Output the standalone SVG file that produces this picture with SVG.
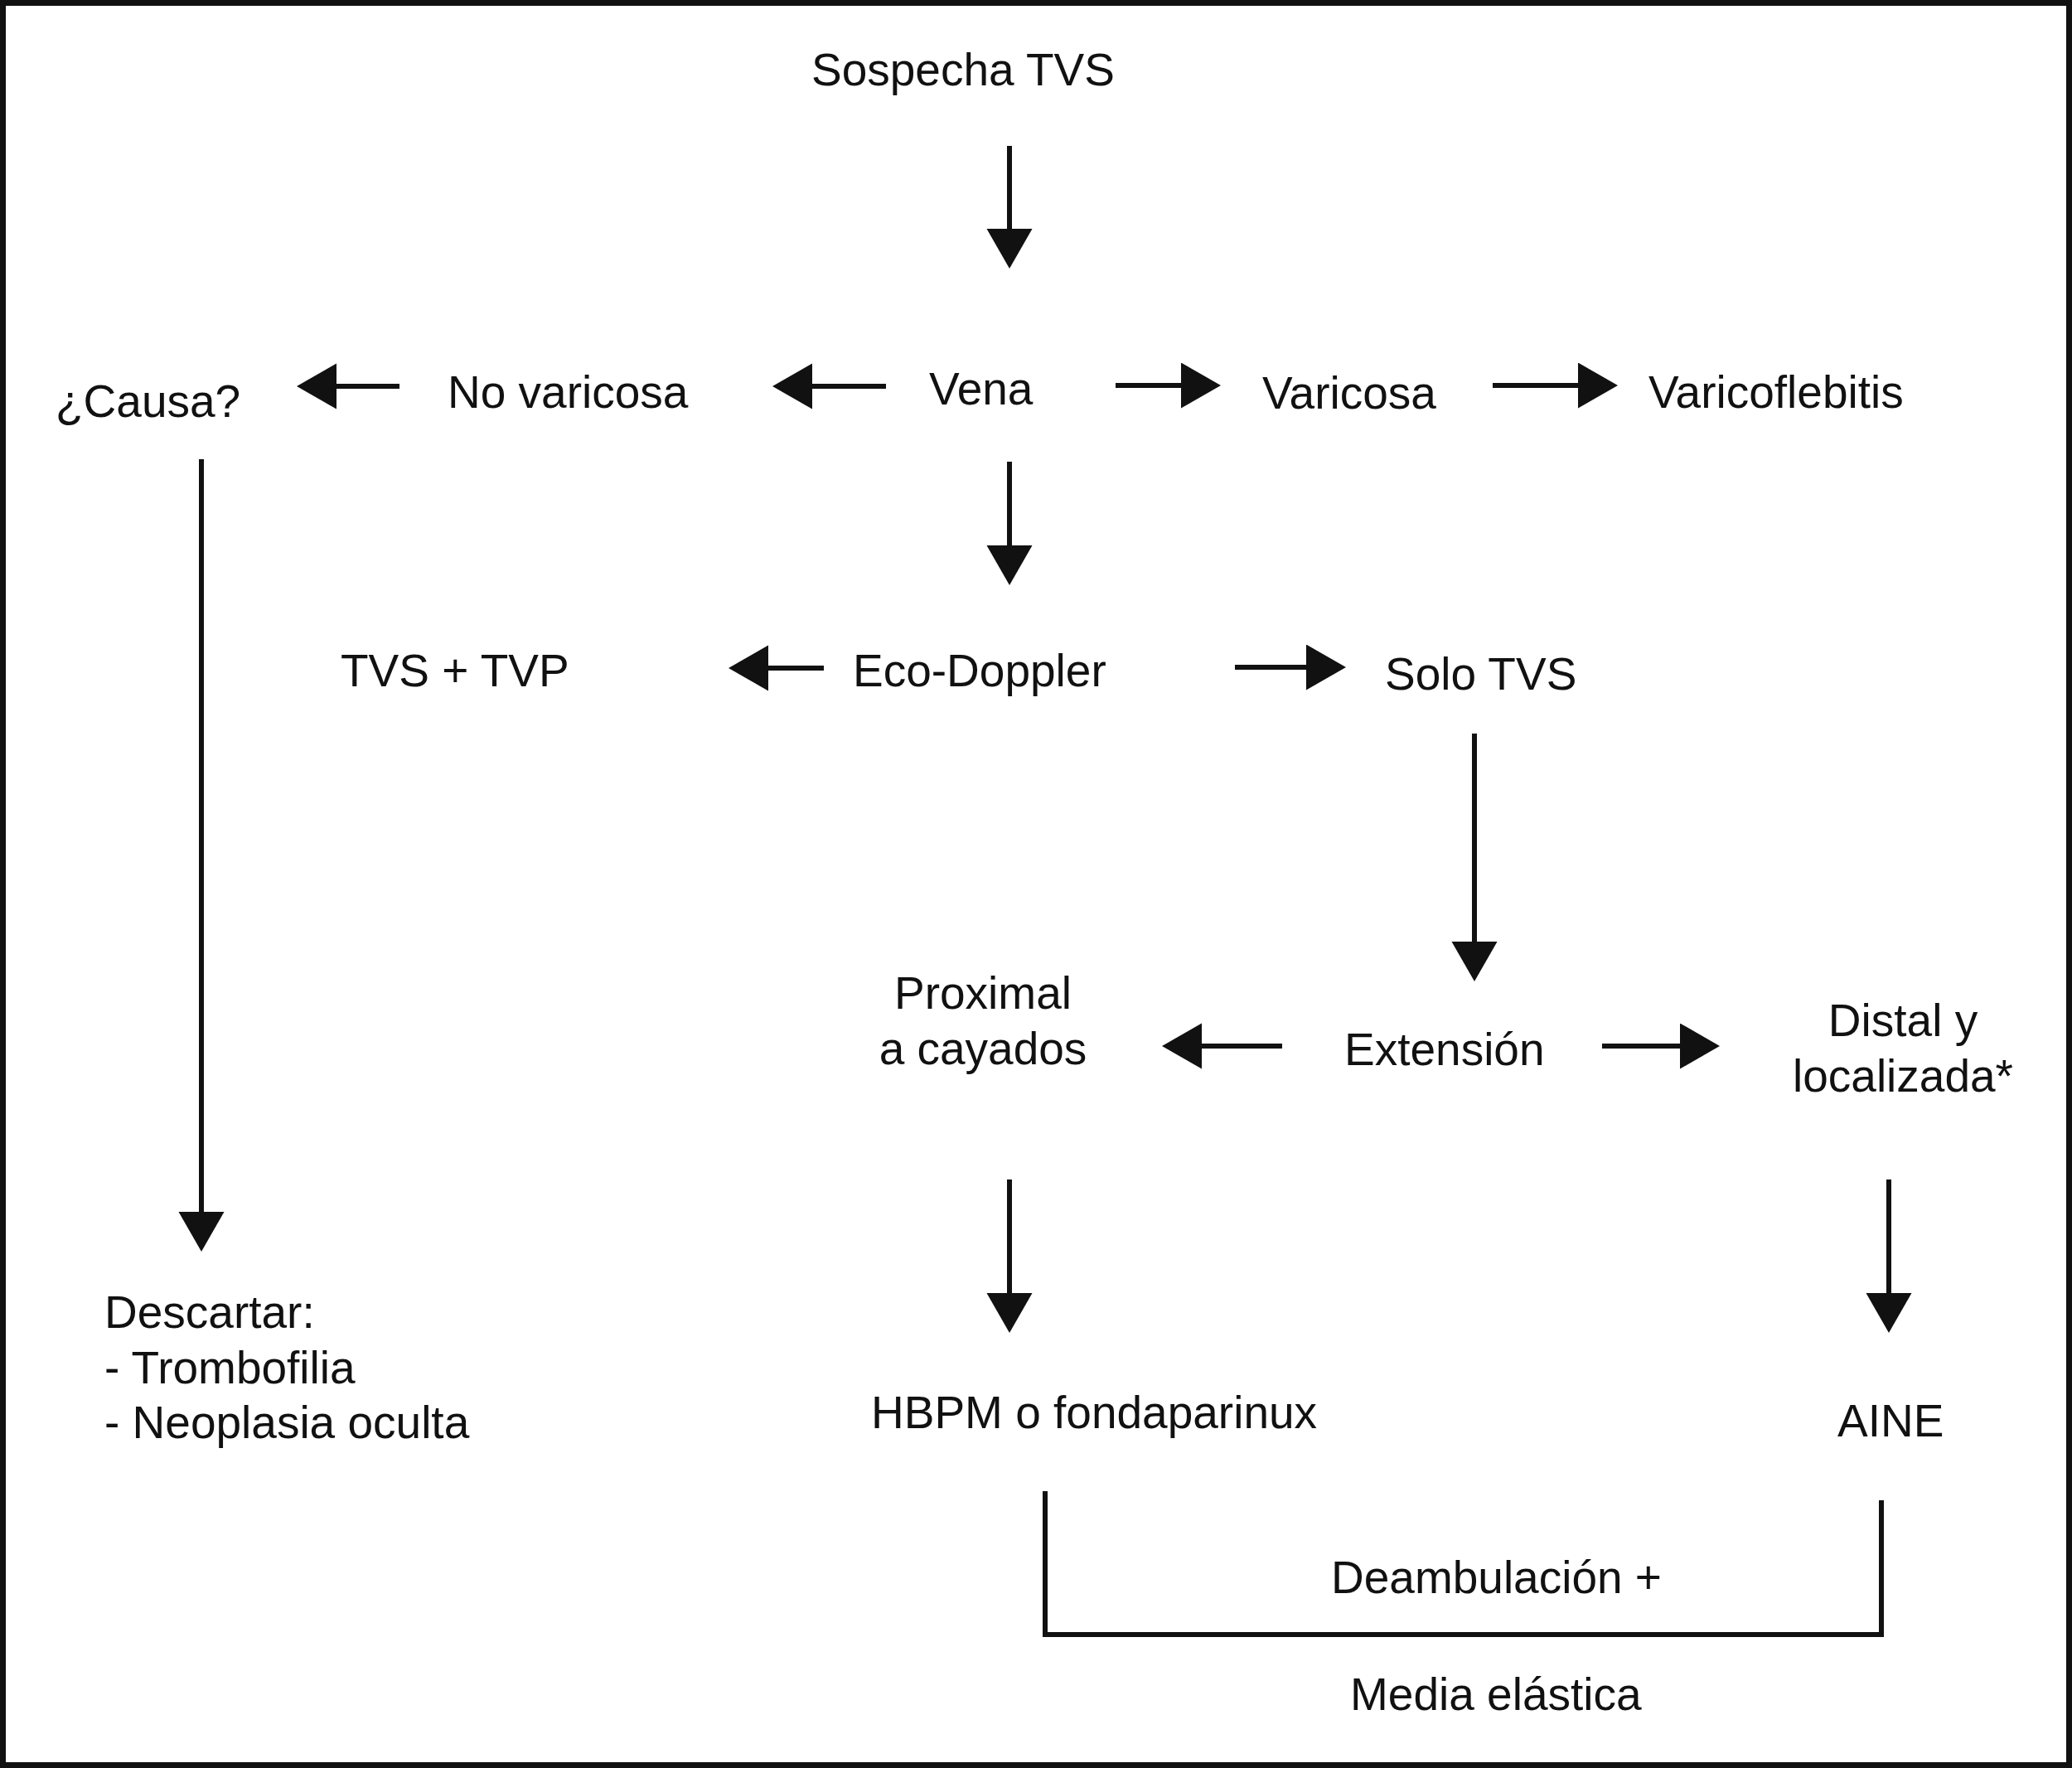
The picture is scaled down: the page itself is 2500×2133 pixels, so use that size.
<svg xmlns="http://www.w3.org/2000/svg" width="2500" height="2133" viewBox="0 0 2500 2133">
<style>
  text { font-family: "Liberation Sans", Arial, Helvetica, sans-serif; font-size: 55px; fill: #111; }
  .c { text-anchor: middle; }
  .ln { stroke: #111; stroke-width: 6; fill: none; }
  .arr { marker-end: url(#ah); }
</style>
<defs>
  <marker id="ah" markerUnits="userSpaceOnUse" markerWidth="50" markerHeight="56" refX="2" refY="27.5" orient="auto" viewBox="0 0 50 56">
    <path d="M0,0 L48,27.5 L0,55 z" fill="#111"/>
  </marker>
</defs>
<rect x="0" y="0" width="2500" height="2133" fill="#fff"/>
<rect id="frame" x="3.5" y="3.5" width="2493" height="2126" fill="none" stroke="#111" stroke-width="7"/>

<g id="connectors">
  <line class="ln arr" x1="1218" y1="176" x2="1218" y2="278"/>
  <line class="ln arr" x1="1069" y1="466" x2="978" y2="466"/>
  <line class="ln arr" x1="482" y1="466" x2="404" y2="466"/>
  <line class="ln arr" x1="1346" y1="465" x2="1427" y2="465"/>
  <line class="ln arr" x1="1801" y1="465" x2="1906" y2="465"/>
  <line class="ln arr" x1="1218" y1="557" x2="1218" y2="660"/>
  <line class="ln arr" x1="994" y1="806" x2="925" y2="806"/>
  <line class="ln arr" x1="1490" y1="805" x2="1578" y2="805"/>
  <line class="ln arr" x1="1779" y1="885" x2="1779" y2="1138"/>
  <line class="ln arr" x1="243" y1="554" x2="243" y2="1464"/>
  <line class="ln arr" x1="1547" y1="1262" x2="1448" y2="1262"/>
  <line class="ln arr" x1="1933" y1="1262" x2="2029" y2="1262"/>
  <line class="ln arr" x1="1218" y1="1423" x2="1218" y2="1562"/>
  <line class="ln arr" x1="2279" y1="1423" x2="2279" y2="1562"/>
  <path class="ln" d="M1261,1799 V1972 H2270 V1810"/>
</g>

<g id="n-sospecha"><text x="979" y="103">Sospecha TVS</text></g>
<g id="n-causa"><text x="67" y="503">¿Causa?</text></g>
<g id="n-novaricosa"><text x="540" y="492">No varicosa</text></g>
<g id="n-vena"><text x="1121" y="488">Vena</text></g>
<g id="n-varicosa"><text x="1523" y="493">Varicosa</text></g>
<g id="n-varicoflebitis"><text x="1989" y="492">Varicoflebitis</text></g>
<g id="n-tvstvp"><text x="411" y="828">TVS + TVP</text></g>
<g id="n-eco"><text x="1029" y="828">Eco-Doppler</text></g>
<g id="n-solo"><text x="1671" y="832">Solo TVS</text></g>
<g id="n-proximal">
  <text class="c" x="1186" y="1217">Proximal</text>
  <text class="c" x="1186" y="1284">a cayados</text>
</g>
<g id="n-extension"><text x="1622" y="1285">Extensión</text></g>
<g id="n-distal">
  <text class="c" x="2296" y="1250">Distal y</text>
  <text class="c" x="2296" y="1317">localizada*</text>
</g>
<g id="n-descartar">
  <text x="126" y="1602">Descartar:</text>
  <text x="126" y="1669">- Trombofilia</text>
  <text x="126" y="1735">- Neoplasia oculta</text>
</g>
<g id="n-hbpm"><text x="1051" y="1723">HBPM o fondaparinux</text></g>
<g id="n-aine"><text x="2217" y="1733">AINE</text></g>
<g id="n-deambulacion"><text x="1606" y="1922">Deambulación +</text></g>
<g id="n-media"><text x="1629" y="2063">Media elástica</text></g>
</svg>
